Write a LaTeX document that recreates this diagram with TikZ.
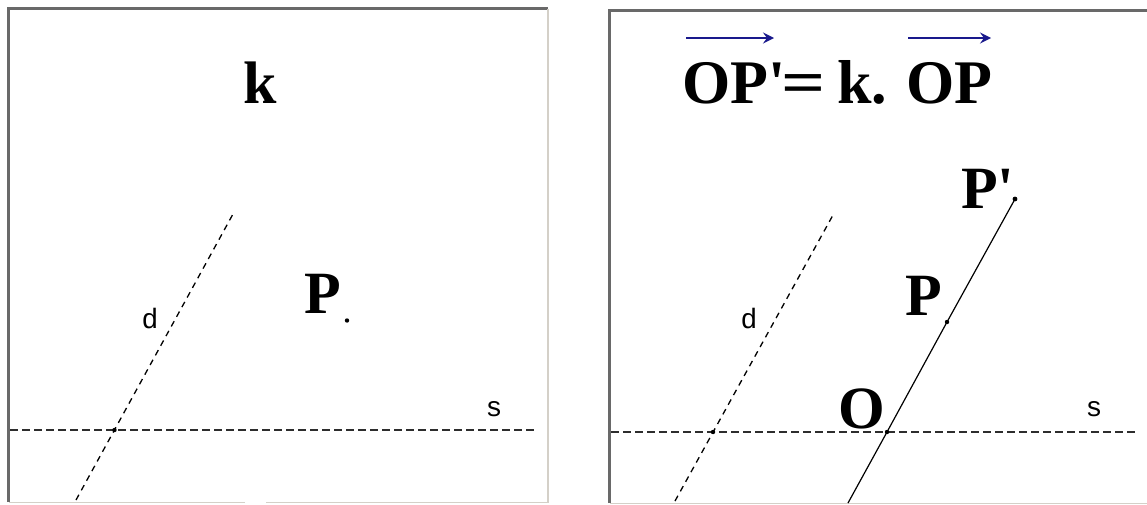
\documentclass[tikz,border=0pt]{standalone}
\usepackage{fontspec}
\setmainfont{Liberation Serif}
\newfontfamily\labfont{Liberation Mono}
\usetikzlibrary{arrows.meta}
\definecolor{darkframe}{RGB}{105,105,105}
\definecolor{lightframe}{RGB}{212,208,200}
\definecolor{vecblue}{RGB}{25,25,140}
\definecolor{dashgray}{RGB}{45,45,45}
\tikzset{
  darkedge/.style={draw=darkframe,line width=3pt},
  lightedge/.style={draw=lightframe,line width=1.6pt},
  sline/.style={draw=dashgray,line width=1.9pt,dash pattern=on 8pt off 4pt},
  dline/.style={draw=black,line width=1.3pt,dash pattern=on 6pt off 5pt},
  solidline/.style={draw=black,line width=1.2pt},
  bigtxt/.style={font=\fontsize{60}{70}\selectfont\bfseries,inner sep=0pt,anchor=base},
  eqtxt/.style={font=\fontsize{62}{70}\selectfont\bfseries,inner sep=0pt,anchor=base west},
  smalltxt/.style={font=\fontsize{28}{32}\selectfont\labfont,inner sep=0pt},
  vecarrow/.style={draw=vecblue,line width=2pt,-{Stealth[length=11pt,width=11pt,inset=4pt]}},
  ptdot/.style={fill=black},
}
\begin{document}
\begin{tikzpicture}[x=1pt,y=-1pt]
\useasboundingbox (0,0) rectangle (1147,504);
% ---------- left panel frame ----------
\draw[darkedge] (8.5,502) -- (8.5,8.5) -- (548,8.5);
\draw[lightedge] (548,9) -- (548,502.5) -- (266,502.5);
\draw[lightedge] (245,502.5) -- (9,502.5);
% ---------- right panel frame ----------
\draw[darkedge] (609,503) -- (609,10.5) -- (1147,10.5);
\draw[lightedge] (610,503.5) -- (1147,503.5);

% ---------- left panel ----------
\coordinate (sLa) at (10,430);
\coordinate (sLb) at (537,430);
\coordinate (dLa) at (76,500);
\coordinate (dLb) at (233,214);
\coordinate (xL) at (114.5,430);
\draw[sline] (sLa) -- (sLb);
\draw[dline] (dLa) -- (dLb);
\fill[ptdot] (xL) circle (2.2pt);
\node[bigtxt] (kL) at (260,103) {k};
\node[bigtxt] (PL) at (323,313) {P};
\fill[ptdot] (347,320.5) circle (2.2pt);
\node[smalltxt] (dlabL) at (150,319) {d};
\node[smalltxt] (slabL) at (494,409) {s};

% ---------- right panel ----------
\coordinate (sRa) at (611,432);
\coordinate (sRb) at (1136,432);
\coordinate (dRa) at (675,501);
\coordinate (dRb) at (833,215);
\coordinate (xR) at (713,432);
\coordinate (O) at (887,432);
\coordinate (P) at (947,322);
\coordinate (Pp) at (1015,199);
\coordinate (bot) at (848,503);
\draw[sline] (sRa) -- (sRb);
\draw[dline] (dRa) -- (dRb);
\draw[solidline] (bot) -- (O) -- (P) -- (Pp);
\fill[ptdot] (xR) circle (2.2pt);
\fill[ptdot] (O) circle (2.2pt);
\fill[ptdot] (P) circle (2.2pt);
\fill[ptdot] (Pp) circle (2.4pt);
\node[bigtxt] (Olab) at (862,428) {O};
\node[bigtxt] (PlabR) at (924,315) {P};
\node[bigtxt,anchor=base west] (Pplab) at (961,208) {P\textquotesingle};
\node[smalltxt] (dlabR) at (749,319) {d};
\node[smalltxt] (slabR) at (1094,409) {s};

% equation
\node[eqtxt] (eqA) at (682,103) {OP\textquotesingle};
\node[eqtxt] (eqB) at (781,103) {\scalebox{1.25}[1]{=}};
\node[eqtxt] (eqC) at (837,103) {k.};
\node[eqtxt] (eqD) at (906,103) {OP};
\coordinate (a1s) at (686,38);
\coordinate (a1e) at (774,38);
\coordinate (a2s) at (908,38);
\coordinate (a2e) at (991,38);
\draw[vecarrow] (a1s) -- (a1e);
\draw[vecarrow] (a2s) -- (a2e);
\end{tikzpicture}
\end{document}
